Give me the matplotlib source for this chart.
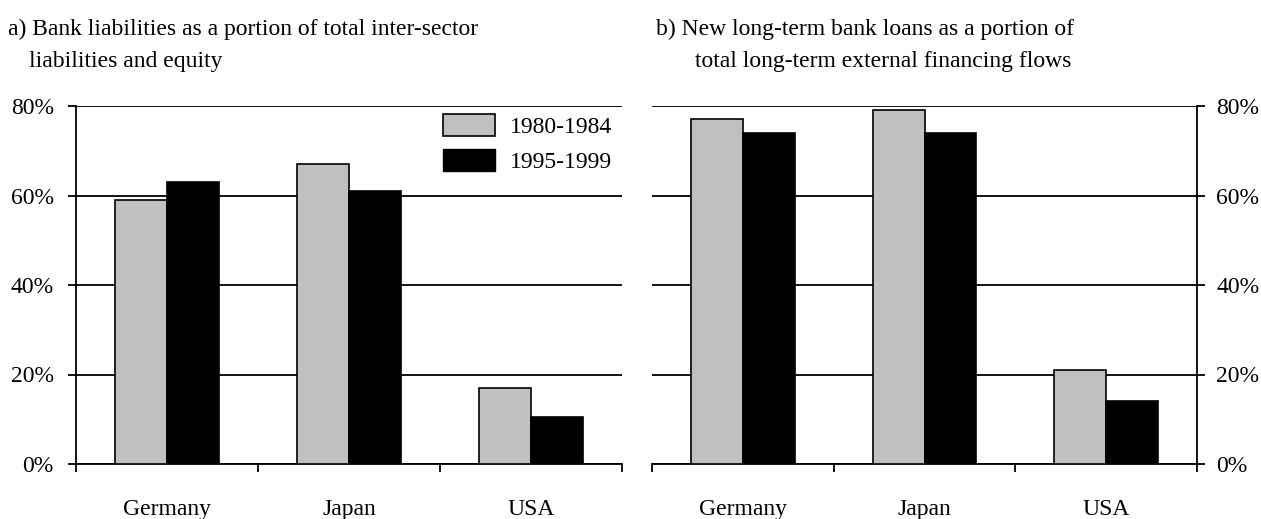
import numpy as np
import matplotlib.pyplot as plt
from matplotlib.patches import Patch

plt.rcParams['font.family'] = ['Liberation Serif', 'DejaVu Serif']
plt.rcParams['font.size'] = 17

# Data (percent)
countries = ['Germany', 'Japan', 'USA']
periods = ['1980-1984', '1995-1999']
liab_8084 = [59.0, 67.0, 17.0]
liab_9599 = [63.0, 61.0, 10.5]
loans_8084 = [77.0, 79.0, 21.0]
loans_9599 = [74.0, 74.0, 14.0]
yticks = [0, 20, 40, 60, 80]

W, H = 1261, 519
fig = plt.figure(figsize=(W / 100, H / 100), dpi=100)
ax1 = fig.add_axes([76 / W, 1 - 464 / H, 546 / W, 358 / H])
ax2 = fig.add_axes([652 / W, 1 - 464 / H, 545 / W, 358 / H])

x = np.arange(len(countries))
bw = 0.286
gray = '#c0c0c0'


def style(ax, v1, v2, side):
    ax.bar(x - bw / 2, v1, bw, color=gray, edgecolor='black', linewidth=1.2, zorder=3)
    ax.bar(x + bw / 2, v2, bw, color='black', edgecolor='black', linewidth=1.2, zorder=3)
    ax.set_xlim(-0.5, 2.5)
    ax.set_ylim(0, 80)
    ax.set_axisbelow(True)
    ax.yaxis.grid(True, color='black', linewidth=1.3)
    ax.set_yticks(yticks)
    ax.set_yticklabels([f'{v}%' for v in yticks])
    ax.set_xticks([-0.5, 0.5, 1.5, 2.5])
    ax.set_xticklabels([])
    ax.set_xticks(x, minor=True)
    ax.set_xticklabels(countries, minor=True)
    ax.tick_params(axis='x', which='major', direction='out', length=6, width=1.3)
    ax.tick_params(axis='x', which='minor', length=0, pad=25)
    ax.tick_params(axis='y', direction='out', length=6, width=1.3, pad=10)
    for s in ax.spines.values():
        s.set_linewidth(1.3)
    ax.spines['top'].set_visible(False)
    if side == 'left':
        ax.spines['right'].set_visible(False)
    else:
        ax.spines['left'].set_visible(False)
        ax.yaxis.tick_right()
        ax.tick_params(axis='y', pad=8)


style(ax1, liab_8084, liab_9599, 'left')
style(ax2, loans_8084, loans_9599, 'right')

handles = [Patch(facecolor=gray, edgecolor='black', linewidth=1.2),
           Patch(facecolor='black', edgecolor='black')]
ax1.legend(handles, periods, loc='upper left', bbox_to_anchor=(443 / W, 1 - 114 / H),
           bbox_transform=fig.transFigure, frameon=False, borderpad=0, borderaxespad=0,
           handlelength=2.2, handleheight=1.05, handletextpad=0.65, labelspacing=0.45)

fig.text(8 / W, 1 - 35 / H, 'a) Bank liabilities as a portion of total inter-sector', va='baseline')
fig.text(29 / W, 1 - 67 / H, 'liabilities and equity', va='baseline')
fig.text(656 / W, 1 - 35 / H, 'b) New long-term bank loans as a portion of', va='baseline')
fig.text(695 / W, 1 - 67 / H, 'total long-term external financing flows', va='baseline')

fig.savefig('out.png', dpi=100)
